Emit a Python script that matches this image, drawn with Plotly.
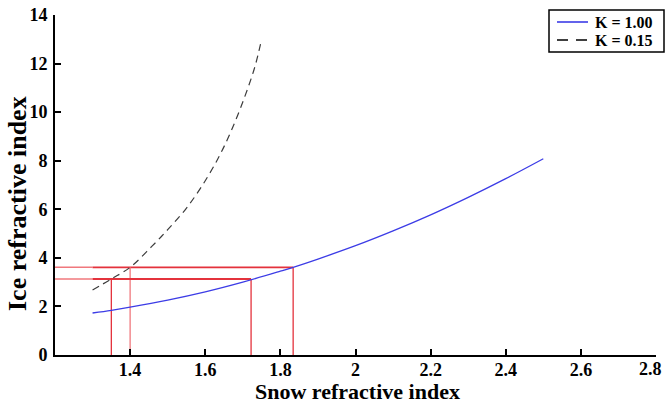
import plotly.graph_objects as go

# Blue curve, K = 1.00
k100_x = [1.30, 1.35, 1.40, 1.50, 1.60, 1.70, 1.80, 1.834, 1.90, 2.00, 2.10, 2.20, 2.30, 2.40, 2.50]
k100_y = [1.73, 1.84, 1.97, 2.26, 2.60, 3.00, 3.45, 3.61, 3.95, 4.50, 5.11, 5.77, 6.49, 7.26, 8.08]

# Dashed curve, K = 0.15
k015_x = [1.30, 1.35, 1.40, 1.457, 1.50, 1.546, 1.59, 1.634, 1.67, 1.705, 1.732, 1.75]
k015_y = [2.68, 3.13, 3.61, 4.46, 5.16, 5.97, 6.93, 8.09, 9.26, 10.63, 11.86, 13.0]

# Red guide lines
ice_levels = [3.61, 3.13]
snow_k100 = [1.834, 1.722]
snow_k015 = [1.40, 1.35]
x_min = 1.2
curve_start = 1.3

x_ticks = [1.4, 1.6, 1.8, 2.0, 2.2, 2.4, 2.6, 2.8]
x_ticktext = ["1.4", "1.6", "1.8", "2", "2.2", "2.4", "2.6", "2.8"]
y_ticks = [0, 2, 4, 6, 8, 10, 12, 14]
y_ticktext = [str(v) for v in y_ticks]

legend_labels = ["K = 1.00", "K = 0.15"]

RED = "rgb(228,50,60)"
RED_LIGHT = "rgb(240,120,125)"
BLUE = "rgb(60,60,230)"
DARK = "rgb(60,60,60)"
FONT = "Liberation Serif"

fig = go.Figure()

# red guide lines
for lvl, xs_hi, xs_lo in zip(ice_levels, snow_k100, snow_k015):
    fig.add_trace(go.Scatter(x=[x_min, curve_start], y=[lvl, lvl], mode="lines",
                             line=dict(color=RED_LIGHT, width=1.5), showlegend=False, hoverinfo="skip"))
    fig.add_trace(go.Scatter(x=[curve_start, xs_hi], y=[lvl, lvl], mode="lines",
                             line=dict(color=RED, width=1.8), showlegend=False, hoverinfo="skip"))
    fig.add_trace(go.Scatter(x=[xs_hi, xs_hi], y=[0, lvl], mode="lines",
                             line=dict(color=RED, width=1.3), showlegend=False, hoverinfo="skip"))
    fig.add_trace(go.Scatter(x=[xs_lo, xs_lo], y=[0, lvl], mode="lines",
                             line=dict(color=RED_LIGHT if xs_lo == 1.40 else RED, width=1.3),
                             showlegend=False, hoverinfo="skip"))

fig.add_trace(go.Scatter(x=k100_x, y=k100_y, mode="lines", name=legend_labels[0], showlegend=False,
                         line=dict(color=BLUE, width=1.3, shape="spline")))
fig.add_trace(go.Scatter(x=k015_x, y=k015_y, mode="lines", name=legend_labels[1], showlegend=False,
                         line=dict(color=DARK, width=1.2, dash="7px,5px", shape="spline")))

axis_common = dict(showgrid=False, zeroline=False, showline=True, linecolor="black", linewidth=2,
                   ticks="inside", ticklen=6, tickwidth=2, tickcolor="black",
                   tickfont=dict(family=FONT, size=18, color="black", weight="bold"))

# plot area in pixels: x 55..656, y 15..355
PL, PR, PT, PB = 55, 656, 15, 355
def px(xp):
    return (xp - PL) / (PR - PL)
def py(yp):
    return (PB - yp) / (PB - PT)

# last x tick label sits at the right edge: draw it right-anchored so it stays inside
x_ticktext_axis = x_ticktext[:-1] + [""]

shapes = [
    dict(type="rect", xref="paper", yref="paper", x0=px(549), x1=px(664), y0=py(52), y1=py(10),
         line=dict(color="black", width=1.5), fillcolor="white", layer="above"),
    dict(type="line", xref="paper", yref="paper", x0=px(557), x1=px(588), y0=py(22), y1=py(22),
         line=dict(color=BLUE, width=1.6), layer="above"),
    dict(type="line", xref="paper", yref="paper", x0=px(557), x1=px(588), y0=py(40), y1=py(40),
         line=dict(color="black", width=1.6, dash="11px,8px"), layer="above"),
]
annotations = [
    dict(text="<b>%s</b>" % legend_labels[0], xref="paper", yref="paper", x=px(593), y=py(22),
         xanchor="left", yanchor="middle", showarrow=False,
         font=dict(family=FONT, size=16, color="black")),
    dict(text="<b>%s</b>" % legend_labels[1], xref="paper", yref="paper", x=px(593), y=py(41),
         xanchor="left", yanchor="middle", showarrow=False,
         font=dict(family=FONT, size=16, color="black")),
    dict(text="<b>%s</b>" % x_ticktext[-1], xref="paper", yref="paper", x=px(664), y=py(369),
         xanchor="right", yanchor="middle", showarrow=False, xshift=0,
         font=dict(family=FONT, size=18, color="black")),
    dict(text="<b>Snow refractive index</b>", xref="paper", yref="paper", x=px(357.5), y=py(391),
         xanchor="center", yanchor="middle", showarrow=False, font=dict(family=FONT, size=22, color="black")),
    dict(text="<b>Ice refractive index</b>", xref="paper", yref="paper", x=px(17), y=py(204),
         xanchor="center", yanchor="middle", textangle=-90, showarrow=False,
         font=dict(family=FONT, size=26, color="black")),
]

fig.update_layout(
    width=665, height=405,
    margin=dict(l=PL, r=665 - PR, t=PT, b=405 - PB, autoexpand=False),
    paper_bgcolor="white", plot_bgcolor="white",
    font=dict(family=FONT, color="black"),
    showlegend=False,
    xaxis=dict(range=[1.2, 2.8], tickvals=x_ticks, ticktext=x_ticktext_axis,
               ticklabelstandoff=-3, **axis_common),
    yaxis=dict(range=[0, 14], tickvals=y_ticks, ticktext=y_ticktext,
               ticklabelstandoff=2, **axis_common),
    shapes=shapes,
    annotations=annotations,
)

fig.write_html("out.html")
